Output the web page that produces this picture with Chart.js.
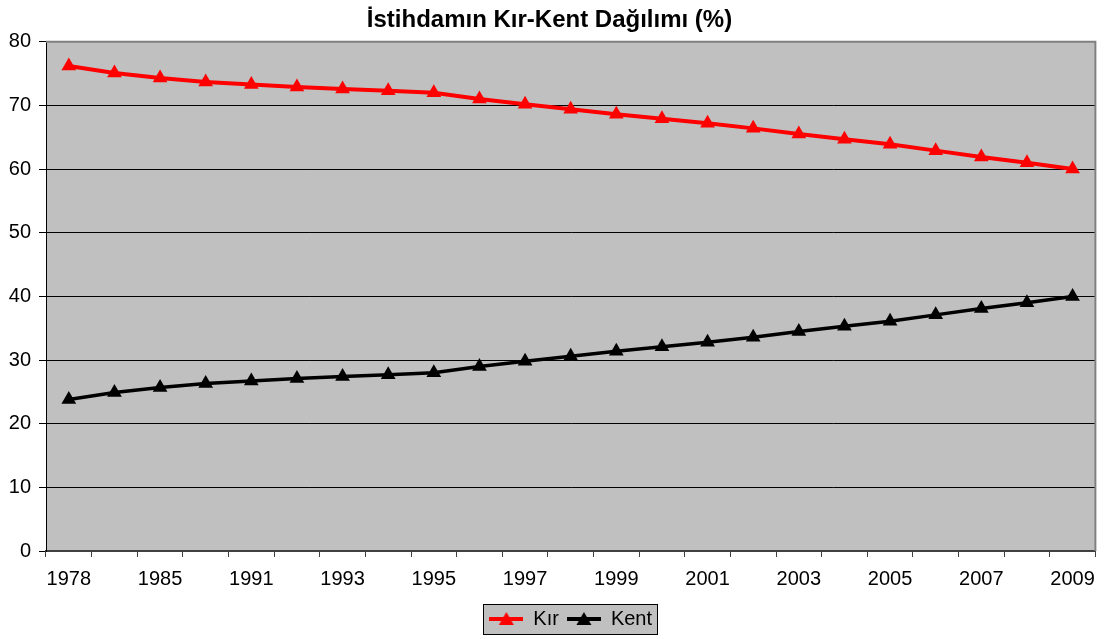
<!DOCTYPE html>
<html>
<head>
<meta charset="utf-8">
<script src="https://cdn.jsdelivr.net/npm/chart.js@4.4.0/dist/chart.umd.min.js"></script>
<style>
html,body{margin:0;padding:0;background:#fff;}
#wrap{width:1105px;height:639px;}
</style>
</head>
<body>
<div id="wrap"><canvas id="c" width="1105" height="639"></canvas></div>
<script>
const years = ['1978','1980','1985','1990','1991','1992','1993','1994','1995','1996','1997','1998','1999','2000','2001','2002','2003','2004','2005','2006','2007','2008','2009'];
const kir = [76.2,75.1,74.3,73.7,73.3,72.9,72.6,72.3,72.0,71.0,70.2,69.4,68.6,67.9,67.2,66.4,65.5,64.7,63.9,62.9,61.9,61.0,60.0];
const kent = [23.8,24.9,25.7,26.3,26.7,27.1,27.4,27.7,28.0,29.0,29.8,30.6,31.4,32.1,32.8,33.6,34.5,35.3,36.1,37.1,38.1,39.0,40.0];
const yTicks = [0,10,20,30,40,50,60,70,80];
const titleText = 'İstihdamın Kır-Kent Dağılımı (%)';
const FONT = '"Liberation Sans", Arial, sans-serif';

function legendIcon(color){
  const c = document.createElement('canvas');
  c.width = 34; c.height = 16;
  const g = c.getContext('2d');
  g.strokeStyle = color; g.lineWidth = 4;
  g.beginPath(); g.moveTo(0,8); g.lineTo(34,8); g.stroke();
  g.fillStyle = color;
  g.beginPath(); g.moveTo(17,1); g.lineTo(24.5,14); g.lineTo(9.5,14); g.closePath(); g.fill();
  return c;
}

const bgPlugin = {
  id:'bg',
  afterLayout(chart){
    const L = chart.legend;
    const a = chart.chartArea;
    const shift = (a.left + a.right)/2 - (L.left + L.right)/2;
    L.left += shift; L.right += shift;
  },
  beforeDraw(chart){
    const {ctx, chartArea:a} = chart;
    ctx.save();
    ctx.fillStyle = '#C0C0C0';
    ctx.fillRect(a.left, a.top, a.right-a.left, a.bottom-a.top);
    const hb = chart.legend.legendHitBoxes;
    if (hb && hb.length){
      const l = hb[0].left - 6, r = hb[hb.length-1].left + hb[hb.length-1].width + 5;
      const t = hb[0].top - 5, b = hb[0].top + hb[0].height + 5;
      ctx.fillStyle = '#C0C0C0';
      ctx.fillRect(l, t, r-l, b-t);
      ctx.strokeStyle = '#000'; ctx.lineWidth = 1;
      ctx.strokeRect(Math.round(l)+0.5, Math.round(t)+0.5, Math.round(r-l), Math.round(b-t));
    }
    ctx.restore();
  },
  afterDraw(chart){
    const {ctx, chartArea:a} = chart;
    ctx.save();
    ctx.strokeStyle = '#808080'; ctx.lineWidth = 2;
    ctx.beginPath();
    ctx.moveTo(a.left, a.top); ctx.lineTo(a.right, a.top); ctx.lineTo(a.right, a.bottom);
    ctx.stroke();
    ctx.restore();
  }
};

new Chart(document.getElementById('c'), {
  type:'line',
  data:{
    labels: years,
    datasets:[
      {label:'Kır', data:kir, borderColor:'#FF0000', backgroundColor:'#FF0000', borderWidth:4,
       pointStyle:'triangle', pointRadius:8.5, pointBorderWidth:0, pointBackgroundColor:'#FF0000', tension:0},
      {label:'Kent', data:kent, borderColor:'#000000', backgroundColor:'#000000', borderWidth:3.5,
       pointStyle:'triangle', pointRadius:8.5, pointBorderWidth:0, pointBackgroundColor:'#000000', tension:0}
    ]
  },
  plugins:[bgPlugin],
  options:{
    responsive:false,
    animation:false,
    layout:{padding:{left:0,right:6,top:0,bottom:0}},
    plugins:{
      title:{display:true, text:titleText, color:'#000',
        font:{family:FONT, size:24, weight:'bold'},
        padding:{top:6,bottom:7}},
      legend:{position:'bottom',
        labels:{color:'#000', font:{family:FONT, size:20},
          usePointStyle:true, pointStyleWidth:34, padding:8,
          generateLabels(chart){
            return chart.data.datasets.map((d,i)=>({
              text:d.label, fillStyle:d.borderColor, strokeStyle:d.borderColor, lineWidth:0,
              pointStyle: legendIcon(d.borderColor), datasetIndex:i, hidden:false, fontColor:'#000'
            }));
          }}},
      tooltip:{enabled:false}
    },
    scales:{
      x:{
        offset:true,
        grid:{display:true, drawOnChartArea:false, drawTicks:true, tickLength:6, offset:true, color:'#404040', lineWidth:1},
        border:{display:true, color:'#404040', width:2},
        ticks:{autoSkip:false, maxRotation:0, color:'#000', padding:10,
          font:{family:FONT, size:20},
          callback(v,i){ return i%2===0 ? years[i] : ''; }},
        afterFit(s){ s.height = 50; }
      },
      y:{
        min:0, max:80,
        afterBuildTicks(s){ s.ticks = yTicks.map(v=>({value:v})); },
        grid:{color:'#000', lineWidth:1, drawTicks:true, tickLength:7},
        border:{display:true, color:'#000', width:1},
        ticks:{color:'#000', padding:8, font:{family:FONT, size:20}},
        afterFit(s){ s.width = 46; }
      }
    }
  }
});
</script>
</body>
</html>
